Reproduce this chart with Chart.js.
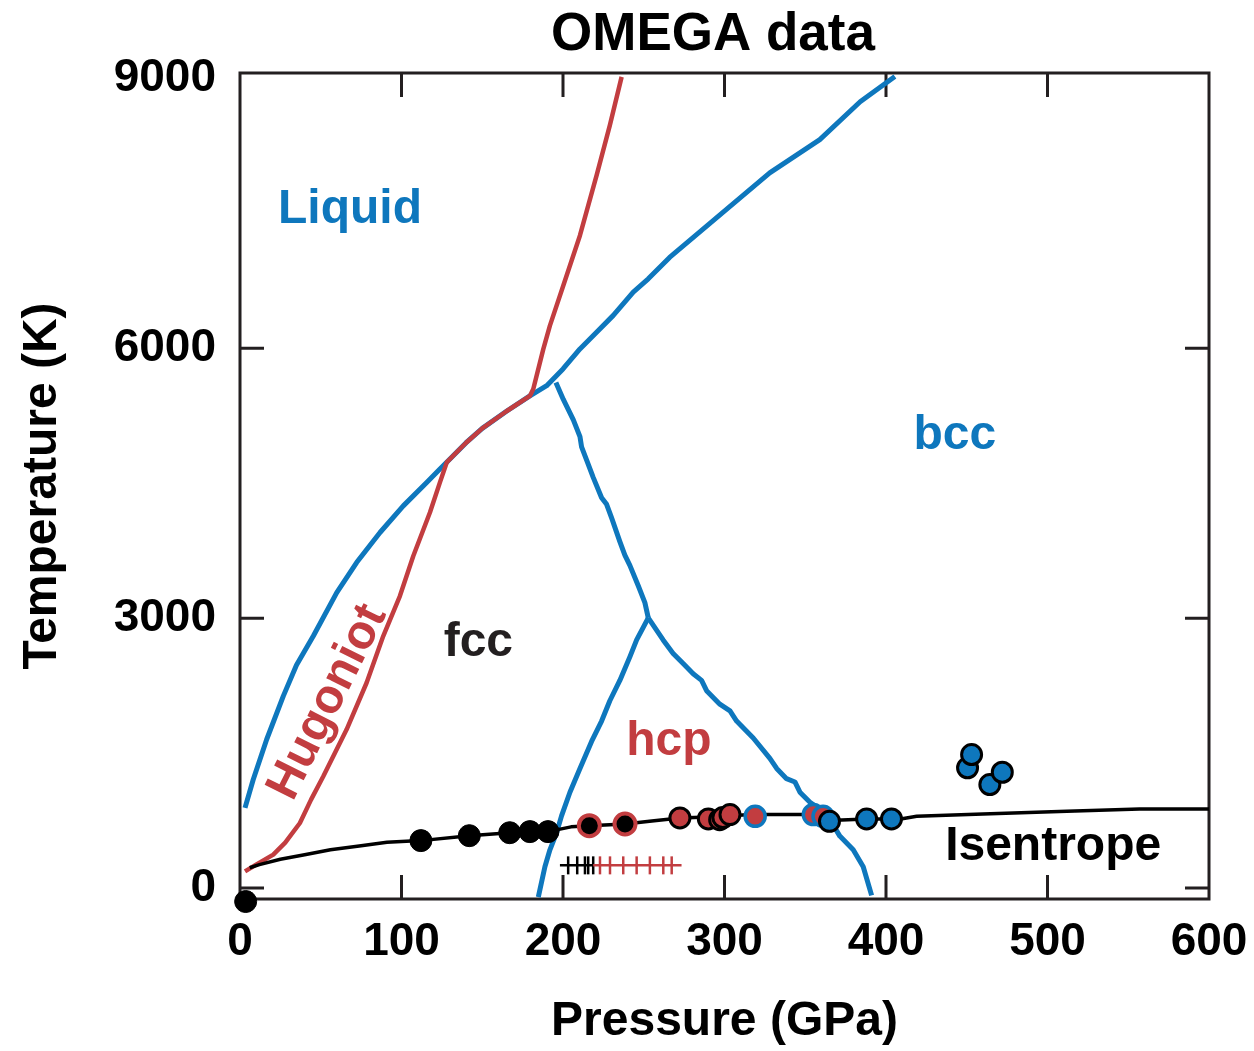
<!DOCTYPE html>
<html>
<head>
<meta charset="utf-8">
<title>OMEGA data</title>
<script src="https://cdn.jsdelivr.net/npm/chart.js@4/dist/chart.umd.min.js"></script>
<style>
  html, body { margin: 0; padding: 0; background: #fff; }
</style>
</head>
<body>
<canvas id="phase" width="1254" height="1051"></canvas>
<script>
// Fe phase diagram: melt line, solid-solid boundaries, Hugoniot, isentrope and OMEGA shots
const xTicks = [0, 100, 200, 300, 400, 500, 600];
const yTicks = [0, 3000, 6000, 9000];

// melting curve (fcc / bcc -> liquid)
const meltP = [3.1, 8.2, 16.5, 26.8, 35, 45.4, 59.9, 72.2, 86.7, 101.1, 115.6, 123.8, 132, 140, 150, 165, 179.5, 189.9, 200, 210.5, 220.8, 231, 243.5, 252.8, 266, 297, 328, 359, 384, 405.5];
const meltT = [891, 1206, 1651, 2133, 2480, 2801, 3284, 3618, 3952, 4248, 4509, 4657, 4805, 4950, 5110, 5300, 5470, 5584, 5770, 5993, 6178, 6363, 6624, 6772, 7010, 7480, 7950, 8320, 8740, 9020];

// fcc / bcc boundary, from the melt line down to the triple point
const fccBccP = [195.6, 200.2, 206.4, 210.5, 211.5, 214.7, 218.7, 223.9, 227, 230.1, 235.2, 238.3, 241.4, 246.6, 250.7, 252.8];
const fccBccT = [5620, 5431, 5205, 5017, 4904, 4753, 4565, 4339, 4265, 4114, 3851, 3700, 3587, 3361, 3173, 3003];

// fcc / hcp boundary
const fccHcpP = [252.8, 245.6, 241.4, 235.2, 229, 223.9, 217.7, 210.5, 204.3, 199.1, 196, 191.9, 188.8, 184.7];
const fccHcpT = [3003, 2758, 2570, 2308, 2082, 1856, 1630, 1329, 1065, 802, 613, 425, 237, -101];

// hcp / bcc boundary
const hcpBccP = [252.8, 262, 268.2, 274.4, 280.6, 285.8, 288.9, 297.1, 303.4, 307.5, 317.8, 328.1, 332.3, 338.4, 343.6, 346.7, 352.9, 359, 365.2, 371.4, 379.7, 385.9, 391.1];
const hcpBccT = [3003, 2758, 2608, 2496, 2382, 2308, 2194, 2044, 1969, 1856, 1668, 1442, 1329, 1216, 1179, 1065, 953, 877, 765, 577, 425, 237, -82];

// principal Hugoniot
const hugP = [3.1, 10, 20.6, 28, 37.1, 44, 51.6, 66, 78.4, 88.7, 99, 107.3, 117.6, 123.8, 128, 132, 140, 150, 165, 179.5, 181.6, 187.8, 191.9, 200.2, 210.5, 220.8, 229, 236.3];
const hugT = [185, 260, 371, 504, 723, 983, 1242, 1762, 2282, 2801, 3246, 3691, 4175, 4509, 4731, 4805, 4950, 5110, 5300, 5470, 5547, 5990, 6252, 6697, 7254, 7922, 8478, 9017];

// ramp isentrope
const isenP = [6, 12, 25, 40, 56, 75, 91, 112, 142, 167, 179.5, 190.7, 205, 216.3, 238.4, 255, 272.4, 290, 303.4, 319, 340, 355, 361, 365, 388, 403.4, 410, 419, 460, 512, 557, 600];
const isenT = [225, 260, 320, 370, 426, 470, 508, 527, 582, 615, 627, 627, 680, 693, 712, 745, 779, 790, 805, 816, 816, 816, 800, 750, 768, 768, 771, 797, 824, 853, 879, 879];

// shot data, grouped by marker style
const fccPtsP = [3.5, 112, 142, 167, 179.5, 190.7];
const fccPtsT = [-150, 527, 582, 615, 627, 627];
const fccHcpPtsP = [216.3, 238.4];
const fccHcpPtsT = [693, 712];
const hcpPtsP = [272.4, 290, 297, 299, 303.4];
const hcpPtsT = [779, 768, 760, 783, 816];
const hcpBccPtsP = [319, 355, 361];
const hcpBccPtsT = [797, 816, 797];
const bccPtsP = [365, 388, 403.4, 450.5, 453, 464.3, 472];
const bccPtsT = [741, 768, 768, 1336, 1484, 1150, 1287];

// pressure tick row under the isentrope
const rowBlackP = [198.1, 203.2, 208.8, 213.6, 215.6, 218.7];
const rowBlackT = [252, 252, 252, 252, 252, 252];
const rowRedP = [218.7, 222.9, 229.1, 237.3, 245.6, 253.8, 262.1, 267.3, 273.4];
const rowRedT = [252, 252, 252, 252, 252, 252, 252, 252, 252];

const BLUE = '#0E77BD';
const RED = '#C23D40';
const INK = '#231F20';
const FONT = "'Liberation Sans', Arial, Helvetica, sans-serif";

function pts(px, ty) {
    return px.map((p, i) => ({x: p, y: ty[i]}));
}

function curve(px, ty, color, width, order) {
    return {
        data: pts(px, ty),
        showLine: true,
        borderColor: color,
        borderWidth: width,
        borderJoinStyle: 'round',
        pointRadius: 0,
        pointHoverRadius: 0,
        tension: 0,
        order: order
    };
}

function markers(px, ty, fill, edge, r, w, order) {
    return {
        data: pts(px, ty),
        showLine: false,
        backgroundColor: fill,
        borderColor: edge,
        pointRadius: r,
        pointBorderWidth: w,
        pointHoverRadius: r,
        clip: false,
        order: order
    };
}

function tickRow(px, ty, color, order) {
    let radii = px.map((p, i) => (i === 0 || (color === RED && i === px.length - 1)) ? 0 : 9);
    return {
        data: pts(px, ty),
        showLine: true,
        borderColor: color,
        borderWidth: 2.5,
        pointStyle: 'line',
        pointRotation: 90,
        pointRadius: radii,
        pointBorderColor: color,
        pointBorderWidth: 2.5,
        order: order
    };
}

const framePlugin = {
    id: 'frame',
    beforeDatasetsDraw(chart) {
        const {ctx, chartArea: a, scales: {x, y}} = chart;
        ctx.save();
        ctx.strokeStyle = INK;
        ctx.lineWidth = 3;
        ctx.strokeRect(a.left, a.top, a.right - a.left, a.bottom - a.top);
        ctx.beginPath();
        for (let v of xTicks) {
            let px = x.getPixelForValue(v);
            if (px - a.left < 10 || a.right - px < 10) continue;
            ctx.moveTo(px, a.bottom); ctx.lineTo(px, a.bottom - 24);
            ctx.moveTo(px, a.top); ctx.lineTo(px, a.top + 24);
        }
        for (let v of yTicks) {
            let py = y.getPixelForValue(v);
            if (py - a.top < 10) continue;
            ctx.moveTo(a.left, py); ctx.lineTo(a.left + 24, py);
            ctx.moveTo(a.right, py); ctx.lineTo(a.right - 24, py);
        }
        ctx.stroke();
        ctx.restore();
    },
    afterDatasetsDraw(chart) {
        const {ctx, scales: {x, y}} = chart;
        ctx.save();
        ctx.textAlign = 'center';
        ctx.textBaseline = 'alphabetic';

        ctx.fillStyle = '#000';
        ctx.font = 'bold 53px ' + FONT;
        ctx.fillText('OMEGA data', 713, 50);

        ctx.font = 'bold 48px ' + FONT;
        const notes = [
            ['Liquid', 68.1, 7395, BLUE],
            ['bcc', 442.6, 4879, BLUE],
            ['fcc', 147.6, 2575, INK],
            ['hcp', 265.6, 1480, RED],
            ['Isentrope', 503.5, 316, '#000']
        ];
        for (let [txt, p, t, c] of notes) {
            ctx.fillStyle = c;
            ctx.fillText(txt, x.getPixelForValue(p), y.getPixelForValue(t));
        }

        ctx.translate(x.getPixelForValue(54.4), y.getPixelForValue(2068));
        ctx.rotate(-63.5 * Math.PI / 180);
        ctx.textBaseline = 'middle';
        ctx.fillStyle = RED;
        ctx.fillText('Hugoniot', 0, 0);
        ctx.restore();
    }
};

const ctx = document.getElementById('phase').getContext('2d');
const phaseChart = new Chart(ctx, {
    type: 'scatter',
    data: {
        datasets: [
            markers(bccPtsP, bccPtsT, BLUE, '#000', 10, 3, 0),
            markers(hcpBccPtsP, hcpBccPtsT, RED, BLUE, 10, 3.5, 1),
            markers(hcpPtsP, hcpPtsT, RED, '#000', 10, 3, 2),
            markers(fccHcpPtsP, fccHcpPtsT, '#000', RED, 10.5, 4, 3),
            markers(fccPtsP, fccPtsT, '#000', '#000', 11, 1, 4),
            tickRow(rowRedP, rowRedT, RED, 5),
            tickRow(rowBlackP, rowBlackT, '#000', 5),
            curve(isenP, isenT, '#000', 3.5, 6),
            curve(hugP, hugT, RED, 4.5, 7),
            curve(meltP, meltT, BLUE, 5, 8),
            curve(fccBccP, fccBccT, BLUE, 5, 8),
            curve(fccHcpP, fccHcpT, BLUE, 5, 8),
            curve(hcpBccP, hcpBccT, BLUE, 5, 8)
        ]
    },
    options: {
        responsive: false,
        animation: false,
        events: [],
        layout: {padding: {top: 73, right: 45, left: 0, bottom: 0}},
        plugins: {
            legend: {display: false},
            tooltip: {enabled: false},
            title: {display: false}
        },
        scales: {
            x: {
                type: 'linear',
                min: 0,
                max: 600,
                afterFit: s => { s.height = 152; s.paddingLeft = 10; s.paddingRight = 30; },
                afterBuildTicks: s => { s.ticks = xTicks.map(v => ({value: v})); },
                grid: {display: false, drawTicks: false},
                border: {display: false},
                ticks: {
                    padding: 16,
                    color: '#000',
                    maxRotation: 0,
                    callback: v => String(v),
                    font: {family: FONT, size: 46, weight: 'bold'}
                },
                title: {
                    display: true,
                    text: 'Pressure (GPa)',
                    color: '#000',
                    padding: {top: 0, bottom: 0},
                    font: {family: FONT, size: 48, weight: 'bold'}
                }
            },
            y: {
                type: 'linear',
                min: -122,
                max: 9060,
                afterFit: s => { s.width = 240; s.paddingTop = 20; s.paddingBottom = 20; },
                afterBuildTicks: s => { s.ticks = yTicks.map(v => ({value: v})); },
                grid: {display: false, drawTicks: false},
                border: {display: false},
                ticks: {
                    padding: 24,
                    color: '#000',
                    callback: v => String(v),
                    font: {family: FONT, size: 46, weight: 'bold'}
                },
                title: {
                    display: true,
                    text: 'Temperature (K)',
                    color: '#000',
                    padding: {top: 14, bottom: 0},
                    font: {family: FONT, size: 48, weight: 'bold'}
                }
            }
        }
    },
    plugins: [framePlugin]
});
</script>
</body>
</html>
